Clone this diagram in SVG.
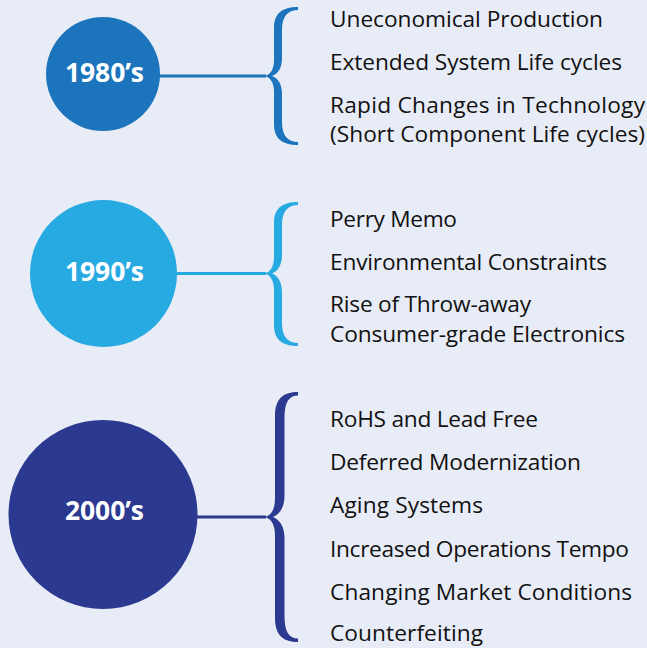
<svg xmlns="http://www.w3.org/2000/svg" width="647" height="648" viewBox="0 0 647 648">
<style>
.bg{fill:#E8ECF6}
.lbl{font-family:"Open Sans","Liberation Sans",sans-serif;font-weight:bold;font-size:26.5px;fill:#ffffff;text-anchor:middle}
.item{font-family:"Open Sans","Liberation Sans",sans-serif;font-size:22.7px;fill:#111111}
.c1{fill:#1C75BC}.c2{fill:#27AAE1}.c3{fill:#2B3990}
.s1{stroke:#1C75BC}.s2{stroke:#27AAE1}.s3{stroke:#2B3990}
.ln{stroke-width:3;fill:none}
</style>
<rect class="bg" x="0" y="0" width="647" height="648"/>
<g id="connectors">
<line class="ln s1" x1="158" y1="76" x2="266" y2="76"/>
<line class="ln s2" x1="175" y1="273.5" x2="266" y2="273.5"/>
<line class="ln s3" x1="196" y1="517" x2="266" y2="517"/>
<path class="c1" d="M298 7 C284 7 274 12 274 28 L274 60 C274 70 270 75 264 76 C270 77 274 82 274 92 L274 124 C274 140 284 145 298 145 L298 142 C288 142 282 136 282 122 L282 94 C282 84 278 78 272 76 C278 74 282 68 282 58 L282 30 C282 16 288 10 298 10 Z"/>
<path class="c2" d="M298 202 C284 202 274 207 274 223 L274 257 C274 267 270 272.5 264 273.5 C270 274.5 274 280 274 290 L274 325 C274 341 284 346 298 346 L298 343 C288 343 282 337 282 323 L282 292 C282 282 278 276 272 273.5 C278 271 282 265 282 255 L282 225 C282 211 288 205 298 205 Z"/>
<path class="c3" d="M298 392 C284 392 275 398 275 416 L275 498 C275 510 271 516 264 517 C271 518 275 524 275 536 L275 618 C275 636 284 642 298 642 L298 638.5 C289 638.5 284.5 632 284.5 616 L284.5 538 C284.5 527 280 520 273 517 C280 514 284.5 507 284.5 496 L284.5 418 C284.5 402 289 395.5 298 395.5 Z"/>
</g>
<g id="n1980">
<circle class="c1" cx="103" cy="74" r="57"/>
<text class="lbl" x="104.5" y="82" textLength="79">1980’s</text>
</g>
<g id="n1990">
<circle class="c2" cx="103.5" cy="273.5" r="73.5"/>
<text class="lbl" x="104.5" y="281" textLength="79">1990’s</text>
</g>
<g id="n2000">
<circle class="c3" cx="103" cy="514.5" r="94.5"/>
<text class="lbl" x="104.5" y="520" textLength="79">2000’s</text>
</g>
<g id="items1980">
<text class="item" x="330" y="26.7" textLength="273">Uneconomical Production</text>
<text class="item" x="330" y="70" textLength="292">Extended System Life cycles</text>
<text class="item" x="330" y="113" textLength="315">Rapid Changes in Technology</text>
<text class="item" x="330" y="141.5" textLength="315">(Short Component Life cycles)</text>
</g>
<g id="items1990">
<text class="item" x="330" y="226.7" textLength="127">Perry Memo</text>
<text class="item" x="330" y="270" textLength="277">Environmental Constraints</text>
<text class="item" x="330" y="312" textLength="201">Rise of Throw-away</text>
<text class="item" x="330" y="341.5" textLength="295">Consumer-grade Electronics</text>
</g>
<g id="items2000">
<text class="item" x="330" y="426.7" textLength="208">RoHS and Lead Free</text>
<text class="item" x="330" y="470" textLength="251">Deferred Modernization</text>
<text class="item" x="330" y="513" textLength="153">Aging Systems</text>
<text class="item" x="330" y="556.7" textLength="299">Increased Operations Tempo</text>
<text class="item" x="330" y="600" textLength="302">Changing Market Conditions</text>
<text class="item" x="330" y="641" textLength="153">Counterfeiting</text>
</g>
</svg>
